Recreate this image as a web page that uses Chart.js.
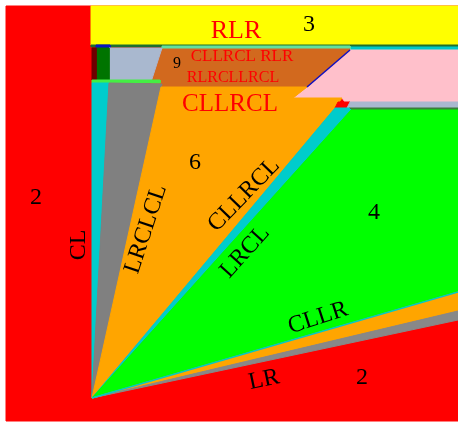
<!DOCTYPE html>
<html lang="en">
<head>
<meta charset="UTF-8">
<script src="https://cdn.jsdelivr.net/npm/chart.js"></script>
<title>Regions</title>
<style>
  html, body { margin: 0; padding: 0; background: #fff; }
  #wrap { width: 458px; height: 423px; }
</style>
</head>
<body>
<div id="wrap"><canvas id="myChart"></canvas></div>
<script>
// region outlines in plot units (x right, y down), listed bottom layer first
const apex = [92, 398];
const field = [[6, 6], [458, 6], [458, 421], [6, 421]];
const band3 = [[91, 6], [458, 6], [458, 45], [91, 45]];
const topRule = [[91, 45], [458, 45], [458, 47], [91, 47]];
const tealStrip = [[350, 47], [458, 47], [458, 51], [350, 51]];
const mintStrip = [[162, 46], [350, 46], [350, 49], [162, 49]];
const blueTab = [[96, 45], [110, 45], [110, 48], [96, 48]];
const pinkZone = [[350, 50], [458, 50], [458, 102], [345, 102], [342, 98], [293, 98], [307, 87]];
const zone9 = [[162, 49], [350, 49], [307, 87], [150, 87]];
const steelBox = [[109, 48], [162, 48], [151, 82], [109, 82]];
const greenBox = [[96, 48], [109, 48], [109, 80], [96, 80]];
const maroonBox = [[92, 48], [96, 48], [96, 80], [92, 80]];
const limeRule = [[92, 80], [160, 80], [160, 83], [92, 83]];
const cyanFanL = [[92, 83], [109, 83], apex];
const fanLRCLCL = [[109, 83], [162, 84], apex];
const zone6 = [[161, 87], [307, 87], [293, 98], [342, 98], [335, 108], apex];
const redChip = [[338, 102], [350, 102], [347, 108], [335, 108]];
const steelStrip = [[350, 102], [458, 102], [458, 108], [347, 108]];
const greenRule = [[349, 108], [458, 108], [458, 110], [350, 110]];
const cyanFanR = [[335, 108], [349, 108], [351, 110], apex];
const zone4 = [[351, 110], [458, 110], [458, 292], apex];
const fanCLLR = [apex, [458, 292], [458, 311]];
const fanGray = [apex, [458, 311], [458, 320]];
const edge9 = [[350, 50], [307, 87]];
const edgeCyan = [apex, [458, 292]];

const layers = [
  [field, '#ff0000'], [band3, '#ffff00'], [topRule, '#1f6f2f'],
  [tealStrip, '#00c8c8'], [mintStrip, '#62e29c'], [blueTab, '#0a14c0'],
  [pinkZone, '#ffc0cb'], [zone9, '#d2691e'], [steelBox, '#a9b8cf'],
  [greenBox, '#007400'], [maroonBox, '#6e0000'], [limeRule, '#44ee44'],
  [cyanFanL, '#00cccc'], [fanLRCLCL, '#808080'], [zone6, '#ffa500'],
  [redChip, '#ff0000'], [steelStrip, '#a9b8cf'], [greenRule, '#3b7d3b'],
  [cyanFanR, '#00cccc'], [zone4, '#00ff00'], [fanCLLR, '#ffa500'],
  [fanGray, '#888888']
];
const edges = [[edge9, '#1010c0'], [edgeCyan, '#00c8c8']];

// text placed in the regions: [text, x, y, angle(deg), size, color]
const labels = [
  ['RLR', 236, 31, 0, 26, '#ff0000'],
  ['3', 309, 25, 0, 24, '#000'],
  ['9', 177, 64, 0, 16, '#000'],
  ['CLLRCL RLR', 242, 57, 0, 17, '#ff0000'],
  ['RLRCLLRCL', 233, 78, 0, 16, '#ff0000'],
  ['CLLRCL', 230, 104, 0, 25, '#ff0000'],
  ['6', 195, 163, 0, 24, '#000'],
  ['2', 36, 198, 0, 24, '#000'],
  ['CL', 79, 245, -90, 24, '#000'],
  ['LRCLCL', 146, 229, -72, 24, '#000'],
  ['CLLRCL', 244, 195, -46, 24, '#000'],
  ['LRCL', 245, 252, -48, 24, '#000'],
  ['4', 374, 213, 0, 24, '#000'],
  ['CLLR', 318, 318, -18, 24, '#000'],
  ['LR', 264, 380, -12, 24, '#000'],
  ['2', 362, 378, 0, 24, '#000']
];

const toXY = pts => pts.map(p => ({x: p[0], y: p[1]}));
const closed = pts => toXY(pts.concat([pts[0]]));

const datasets = [];
layers.forEach(([pts, color]) => {
  datasets.push({
    data: closed(pts),
    showLine: true,
    fill: 'shape',
    backgroundColor: color,
    borderColor: color,
    borderWidth: 1,
    pointRadius: 0,
    tension: 0
  });
});
edges.forEach(([pts, color]) => {
  datasets.push({
    data: toXY(pts),
    showLine: true,
    fill: false,
    borderColor: color,
    borderWidth: 1.5,
    pointRadius: 0
  });
});
// first dataset is painted last, so give later layers a lower order
datasets.forEach((d, i) => { d.order = datasets.length - i; });

const labelPlugin = {
  id: 'regionLabels',
  afterDatasetsDraw(chart) {
    const {ctx, scales} = chart;
    labels.forEach(([text, x, y, ang, size, color]) => {
      ctx.save();
      ctx.translate(scales.x.getPixelForValue(x), scales.y.getPixelForValue(y));
      ctx.rotate(ang * Math.PI / 180);
      ctx.font = size + 'px "Liberation Serif", "DejaVu Serif", serif';
      ctx.fillStyle = color;
      ctx.textAlign = 'center';
      ctx.textBaseline = 'middle';
      ctx.fillText(text, 0, 0);
      ctx.restore();
    });
  }
};

new Chart(document.getElementById('myChart'), {
  type: 'scatter',
  data: { datasets },
  options: {
    responsive: true,
    maintainAspectRatio: false,
    animation: false,
    layout: { padding: 0 },
    plugins: { legend: { display: false }, tooltip: { enabled: false } },
    scales: {
      x: { type: 'linear', min: 0, max: 458, display: false },
      y: { type: 'linear', min: 0, max: 423, reverse: true, display: false }
    }
  },
  plugins: [labelPlugin]
});
</script>
</body>
</html>
